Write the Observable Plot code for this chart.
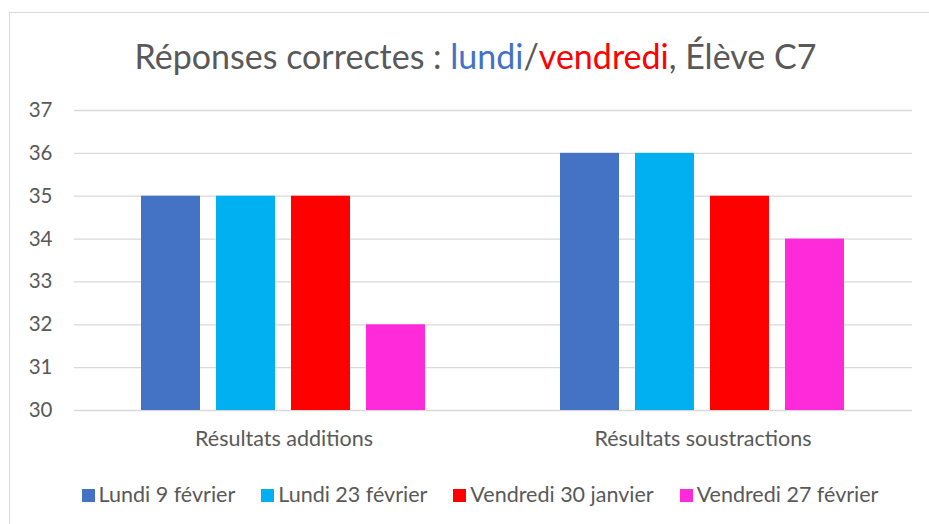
<!DOCTYPE html>
<html><head><meta charset="utf-8">
<script src="https://cdn.jsdelivr.net/npm/d3@7"></script>
<script src="https://cdn.jsdelivr.net/npm/@observablehq/plot@0.6"></script>
<style>
body{margin:0;background:#fff;font-family:Lato,"Open Sans",sans-serif;}
#frame{position:absolute;left:9px;top:12px;width:940px;height:540px;border:1px solid #d9d9d9;box-sizing:border-box;}
#title{position:absolute;left:0;width:951px;top:35px;text-align:center;font-size:34px;color:#595959;white-space:nowrap;}
#chart{position:absolute;left:0;top:0;}
#legend{position:absolute;left:0;top:481px;width:960px;text-align:center;font-size:21.5px;color:#595959;white-space:nowrap;}
#legend span.item{margin:0 13px;}
#legend span.sw{display:inline-block;width:13px;height:13px;margin-right:4px;vertical-align:0px;}
</style></head>
<body>
<div id="frame"></div>
<div id="title">Réponses correctes : <span style="color:#4472C4">lundi</span>/<span style="color:#FF0000">vendredi</span>, Élève C7</div>
<div id="chart"></div>
<div id="legend"></div>
<script>
const categories = ["Résultats additions", "Résultats soustractions"];
const series = ["Lundi 9 février", "Lundi 23 février", "Vendredi 30 janvier", "Vendredi 27 février"];
const colors = ["#4472C4", "#00B0F0", "#FF0000", "#FF2AD9"];
const lundi9 = [35, 36];
const lundi23 = [35, 36];
const vendredi30 = [35, 35];
const vendredi27 = [32, 34];
const yTicks = [30, 31, 32, 33, 34, 35, 36, 37];

const valuesBySeries = [lundi9, lundi23, vendredi30, vendredi27];
const data = [];
categories.forEach((c, ci) => series.forEach((s, si) => data.push({cat: c, serie: s, value: valuesBySeries[si][ci]})));

const chart = Plot.plot({
  width: 929,
  height: 460,
  marginLeft: 74,
  marginRight: 17,
  marginTop: 110,
  marginBottom: 50,
  style: {fontFamily: "Lato, 'Open Sans', sans-serif", background: "transparent", color: "#595959"},
  fx: {domain: categories, padding: 0, label: null},
  x: {domain: series, paddingInner: 0.2105, paddingOuter: 0.862, axis: null},
  y: {domain: [30, 37], ticks: yTicks, label: null},
  color: {domain: series, range: colors},
  marks: [
    Plot.gridY(yTicks, {stroke: "#d9d9d9", strokeOpacity: 1, strokeWidth: 1.3, facetAnchor: null}),
    Plot.rectY(data, {fx: "cat", x: "serie", y1: 30, y2: "value", fill: "serie"}),
    Plot.axisY(yTicks, {tickSize: 0, tickPadding: 22, fontSize: 20.5, fill: "#595959", label: null}),
    Plot.axisFx({anchor: "bottom", tickSize: 0, tickPadding: 20, fontSize: 21.5, fill: "#595959", label: null})
  ]
});
document.getElementById("chart").appendChild(chart);

const leg = document.getElementById("legend");
series.forEach((s, i) => {
  const item = document.createElement("span");
  item.className = "item";
  const sw = document.createElement("span");
  sw.className = "sw";
  sw.style.background = colors[i];
  item.appendChild(sw);
  item.appendChild(document.createTextNode(s));
  leg.appendChild(item);
});
</script>
</body></html>
